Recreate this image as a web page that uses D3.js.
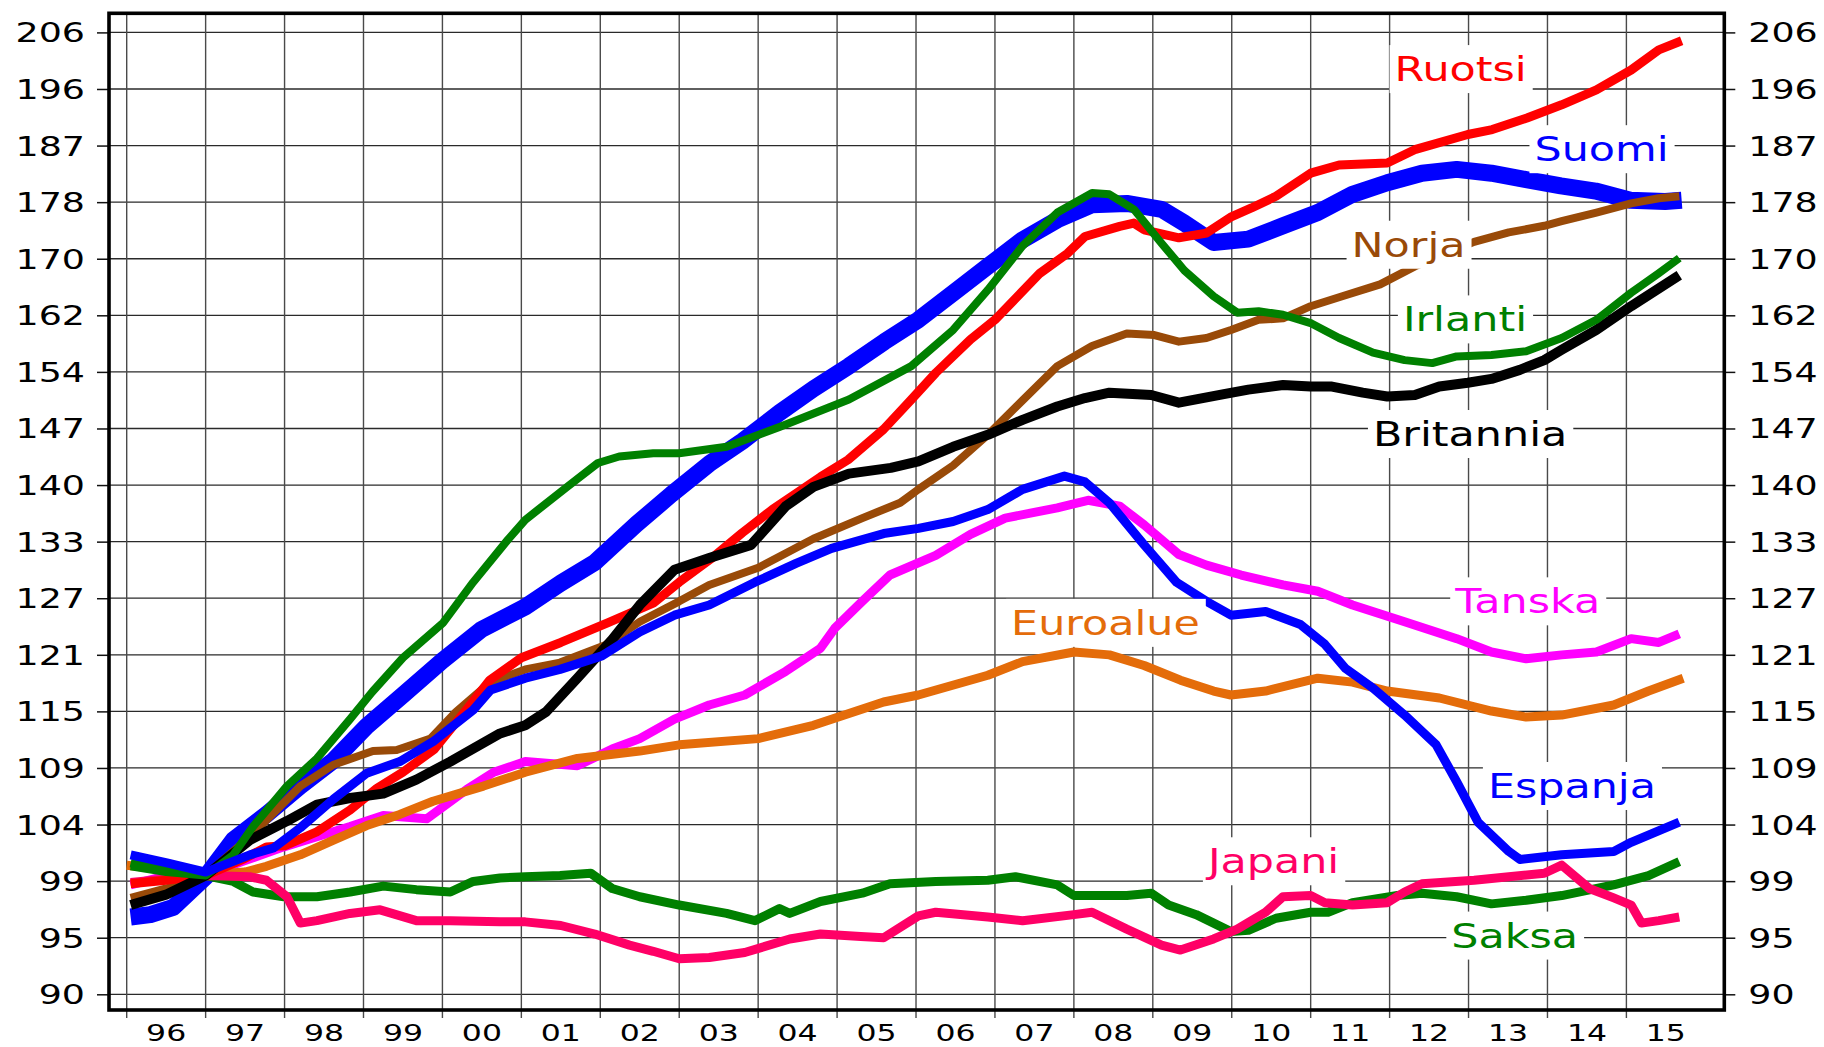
<!DOCTYPE html>
<html>
<head>
<meta charset="utf-8">
<script src="https://cdn.jsdelivr.net/npm/d3@7"></script>
<style>
  body { margin: 0; background: #fff; }
  text { font-family: "DejaVu Sans", sans-serif; }
</style>
</head>
<body>
<div id="chart"></div>
<script>
// house price index, log scale, 1996-2015

const yearLabels = ["96","97","98","99","00","01","02","03","04","05","06","07","08","09","10","11","12","13","14","15"];
const yTickLabels = ["90","95","99","104","109","115","121","127","133","140","147","154","162","170","178","187","196","206"];

const ruotsi = [[1996.05,99.0],[1996.5,99.3],[1997.0,99.7],[1997.5,101.2],[1997.77,102.2],[1998.0,102.3],[1998.4,103.5],[1998.83,105.5],[1999.17,107.5],[1999.5,109.0],[1999.9,111.2],[2000.3,115.0],[2000.6,118.0],[2001.0,120.3],[2001.5,121.9],[2002.1,124.0],[2002.67,126.1],[2003.0,128.4],[2003.4,131.0],[2003.8,134.0],[2004.18,136.7],[2004.79,140.6],[2005.14,142.7],[2005.59,146.5],[2005.94,150.3],[2006.25,153.8],[2006.69,158.3],[2007.0,161.0],[2007.57,167.6],[2007.92,170.5],[2008.14,173.0],[2008.58,174.5],[2008.76,175.0],[2008.89,174.0],[2009.33,172.8],[2009.68,173.5],[2010.0,176.0],[2010.25,177.3],[2010.56,179.1],[2011.0,182.7],[2011.36,184.0],[2011.97,184.3],[2012.33,186.5],[2012.99,188.9],[2013.3,189.7],[2013.74,191.6],[2014.18,193.8],[2014.62,196.3],[2015.06,199.7],[2015.41,203.2],[2015.7,204.8]];

const suomi = [[1996.05,96.2],[1996.3,96.4],[1996.59,97.0],[1997.0,99.6],[1997.35,102.8],[1997.77,105.1],[1998.2,107.7],[1998.62,110.1],[1999.04,113.4],[1999.5,116.5],[2000.0,120.0],[2000.5,123.3],[2001.05,125.7],[2001.5,128.3],[2001.93,130.6],[2002.46,135.0],[2002.9,138.5],[2003.38,142.2],[2003.8,145.0],[2004.27,148.6],[2004.7,151.7],[2005.15,154.7],[2005.6,158.0],[2006.03,161.0],[2006.5,165.0],[2006.91,168.6],[2007.35,172.5],[2007.79,175.5],[2008.23,177.8],[2008.67,178.0],[2009.11,177.1],[2009.4,175.0],[2009.77,172.1],[2010.21,172.6],[2010.65,174.6],[2011.09,176.6],[2011.53,179.4],[2011.97,181.2],[2012.41,182.7],[2012.85,183.3],[2013.29,182.7],[2013.73,181.7],[2014.17,180.7],[2014.61,179.9],[2015.05,178.5],[2015.49,178.3],[2015.7,178.5]];

const norja = [[1996.05,97.8],[1996.5,98.6],[1997.0,99.7],[1997.56,103.1],[1998.2,107.7],[1998.62,109.7],[1999.12,111.0],[1999.42,111.1],[1999.85,112.2],[2000.17,114.8],[2000.61,117.8],[2001.05,119.1],[2001.49,119.8],[2002.06,121.6],[2002.5,124.1],[2003.0,126.3],[2003.38,128.1],[2004.0,130.0],[2004.7,133.3],[2005.32,135.7],[2005.8,137.5],[2006.03,139.1],[2006.47,142.0],[2006.91,145.8],[2007.35,150.2],[2007.79,154.7],[2008.23,157.4],[2008.67,159.1],[2009.02,158.9],[2009.33,158.0],[2009.68,158.5],[2009.99,159.6],[2010.34,161.0],[2010.65,161.2],[2011.0,162.9],[2011.4,164.3],[2011.88,166.0],[2012.32,168.6],[2013.07,172.2],[2013.51,173.6],[2013.96,174.6],[2014.18,175.3],[2014.62,176.6],[2015.06,178.0],[2015.41,178.8],[2015.67,179.1]];

const irlanti = [[1996.05,100.5],[1996.5,100.0],[1997.0,99.7],[1997.35,101.5],[1997.6,104.0],[1998.03,107.7],[1998.41,110.3],[1998.83,114.1],[1999.11,116.8],[1999.5,120.3],[2000.01,124.0],[2000.39,128.4],[2000.83,133.2],[2001.05,135.5],[2001.58,139.4],[2001.97,142.3],[2002.24,143.1],[2002.67,143.5],[2003.0,143.5],[2003.6,144.3],[2004.27,146.8],[2005.15,150.3],[2005.94,154.7],[2006.47,159.6],[2006.91,165.2],[2007.35,171.6],[2007.79,176.6],[2008.23,179.6],[2008.45,179.4],[2008.76,177.1],[2009.11,172.0],[2009.4,168.0],[2009.77,164.3],[2010.07,162.0],[2010.34,162.2],[2010.65,161.7],[2011.01,160.5],[2011.36,158.5],[2011.79,156.5],[2012.19,155.5],[2012.54,155.1],[2012.85,156.0],[2013.29,156.2],[2013.73,156.7],[2014.18,158.5],[2014.62,161.0],[2015.06,164.8],[2015.41,167.6],[2015.67,169.8]];

const britannia = [[1996.05,97.2],[1996.51,98.1],[1997.0,99.7],[1997.56,102.8],[1998.03,104.5],[1998.41,106.0],[1998.83,106.6],[1999.25,107.0],[1999.67,108.3],[2000.1,110.0],[2000.73,112.7],[2001.05,113.5],[2001.31,114.8],[2001.71,118.2],[2002.15,122.2],[2002.5,125.9],[2002.94,129.8],[2003.38,131.1],[2003.91,132.6],[2004.35,137.1],[2004.7,139.4],[2005.15,141.0],[2005.68,141.7],[2006.03,142.5],[2006.47,144.3],[2006.91,145.8],[2007.35,147.7],[2007.79,149.4],[2008.14,150.5],[2008.45,151.2],[2008.98,150.9],[2009.33,149.9],[2009.9,151.0],[2010.21,151.6],[2010.65,152.2],[2011.0,152.0],[2011.27,152.0],[2011.66,151.2],[2011.97,150.7],[2012.32,150.9],[2012.63,152.0],[2012.99,152.5],[2013.29,153.0],[2013.65,154.2],[2013.96,155.5],[2014.18,156.9],[2014.62,159.6],[2015.06,162.9],[2015.67,167.3]];

const espanja = [[1996.05,101.5],[1996.51,100.8],[1997.0,100.0],[1997.56,101.5],[1997.86,102.1],[1998.2,103.9],[1998.62,106.5],[1999.04,108.9],[1999.46,110.0],[1999.88,111.9],[2000.39,115.0],[2000.61,117.0],[2001.05,118.2],[2001.49,119.1],[2002.02,120.5],[2002.5,123.0],[2002.94,124.8],[2003.38,125.9],[2003.96,128.4],[2004.48,130.5],[2004.93,132.2],[2005.59,133.9],[2006.03,134.5],[2006.47,135.3],[2006.91,136.7],[2007.35,139.1],[2007.88,140.7],[2008.14,140.0],[2008.45,137.5],[2008.89,132.6],[2009.3,128.4],[2009.68,126.3],[2009.99,124.8],[2010.43,125.2],[2010.87,123.8],[2011.18,121.7],[2011.44,119.2],[2011.79,117.2],[2012.19,114.5],[2012.59,111.6],[2012.85,108.1],[2013.12,104.4],[2013.51,101.8],[2013.65,101.1],[2014.18,101.5],[2014.84,101.8],[2015.06,102.6],[2015.67,104.4]];

const tanska = [[1996.05,98.9],[1996.51,99.7],[1997.0,99.8],[1997.5,101.0],[1997.99,102.2],[1998.41,103.1],[1998.83,104.0],[1999.25,105.0],[1999.8,104.7],[2000.31,107.4],[2000.65,109.0],[2001.05,110.0],[2001.71,109.6],[2002.15,111.2],[2002.5,112.2],[2002.94,114.1],[2003.38,115.5],[2003.83,116.5],[2004.35,118.9],[2004.79,121.3],[2004.97,123.4],[2005.32,126.3],[2005.67,129.2],[2006.25,131.4],[2006.69,133.8],[2007.13,135.7],[2007.79,136.9],[2008.18,137.8],[2008.58,137.1],[2008.89,134.9],[2009.33,131.5],[2009.68,130.3],[2010.12,129.2],[2010.65,128.1],[2011.09,127.4],[2011.53,125.9],[2012.19,124.1],[2012.85,122.3],[2013.29,120.9],[2013.73,120.2],[2014.18,120.6],[2014.62,120.9],[2015.06,122.3],[2015.41,121.9],[2015.67,122.8]];

const euroalue = [[1996.0,100.6],[1996.51,100.2],[1997.0,99.8],[1997.5,100.0],[1997.77,100.5],[1998.2,101.5],[1998.62,102.8],[1999.04,104.1],[1999.46,105.1],[1999.88,106.3],[2000.52,107.7],[2001.05,109.0],[2001.71,110.3],[2002.5,111.0],[2003.0,111.6],[2004.0,112.2],[2004.7,113.5],[2005.59,115.8],[2006.03,116.5],[2006.91,118.5],[2007.35,119.9],[2008.0,120.9],[2008.45,120.6],[2008.89,119.5],[2009.35,118.0],[2009.77,116.9],[2009.99,116.5],[2010.43,116.9],[2011.09,118.2],[2011.53,117.8],[2011.97,116.9],[2012.63,116.2],[2013.29,114.9],[2013.73,114.3],[2014.18,114.5],[2014.84,115.5],[2015.28,116.9],[2015.72,118.2]];

const japani = [[1996.05,99.1],[1996.51,99.4],[1997.0,99.7],[1997.56,99.6],[1997.77,99.3],[1998.03,97.9],[1998.2,95.7],[1998.41,95.9],[1998.83,96.5],[1999.21,96.8],[1999.67,95.9],[2000.1,95.9],[2000.73,95.8],[2001.05,95.8],[2001.5,95.5],[2001.93,94.8],[2002.37,93.9],[2002.67,93.4],[2003.0,92.8],[2003.38,92.9],[2003.83,93.3],[2004.4,94.4],[2004.79,94.8],[2005.3,94.6],[2005.59,94.5],[2006.03,96.3],[2006.25,96.6],[2006.91,96.2],[2007.35,95.9],[2008.0,96.4],[2008.23,96.6],[2008.67,95.2],[2009.11,93.9],[2009.35,93.5],[2009.77,94.4],[2010.07,95.2],[2010.43,96.6],[2010.65,97.9],[2011.0,98.0],[2011.18,97.4],[2011.53,97.2],[2011.97,97.4],[2012.19,98.3],[2012.41,99.0],[2013.07,99.3],[2013.51,99.6],[2013.96,99.9],[2014.18,100.6],[2014.53,98.6],[2014.84,97.8],[2015.06,97.2],[2015.19,95.7],[2015.41,95.9],[2015.67,96.2]];

const saksa = [[1996.05,100.8],[1996.5,100.1],[1997.0,99.7],[1997.35,99.2],[1997.6,98.3],[1997.99,97.9],[1998.41,97.9],[1998.83,98.3],[1999.25,98.8],[1999.67,98.5],[2000.1,98.3],[2000.39,99.2],[2000.73,99.5],[2001.05,99.6],[2001.49,99.7],[2001.88,99.9],[2002.15,98.6],[2002.5,97.9],[2003.0,97.2],[2003.6,96.5],[2003.96,95.9],[2004.27,96.9],[2004.4,96.5],[2004.79,97.5],[2005.32,98.2],[2005.67,99.0],[2006.25,99.2],[2006.91,99.3],[2007.26,99.6],[2007.79,98.9],[2008.0,98.0],[2008.67,98.0],[2008.98,98.2],[2009.2,97.2],[2009.55,96.4],[2009.99,95.0],[2010.21,95.1],[2010.56,96.1],[2011.0,96.6],[2011.22,96.6],[2011.53,97.4],[2012.1,98.0],[2012.41,98.2],[2012.85,97.9],[2013.29,97.3],[2013.73,97.6],[2014.18,98.0],[2014.84,98.9],[2015.28,99.7],[2015.67,100.9]];

// drawing order = z order
const series = [
  {name: "Suomi",     data: suomi,     color: "#0000ff", width: 17, label: [2014.685, 184.6]},
  {name: "Tanska",    data: tanska,    color: "#ff00ff", width: 9,  label: [2013.75, 125.0]},
  {name: "Euroalue",  data: euroalue,  color: "#e46c0a", width: 9,  label: [2008.40, 122.7]},
  {name: "Saksa",     data: saksa,     color: "#008000", width: 9,  label: [2013.585, 93.7]},
  {name: "Japani",    data: japani,    color: "#ff0066", width: 9,  label: [2010.53, 99.9]},
  {name: "Norja",     data: norja,     color: "#994a08", width: 8,  label: [2012.24, 170.0]},
  {name: "Ruotsi",    data: ruotsi,    color: "#ff0000", width: 9,  label: [2012.90, 197.8]},
  {name: "Britannia", data: britannia, color: "#000000", width: 10, label: [2013.02, 144.4]},
  {name: "Irlanti",   data: irlanti,   color: "#008000", width: 8,  label: [2012.955, 159.4]},
  {name: "Espanja",   data: espanja,   color: "#0000ff", width: 9,  label: [2014.31, 106.6]}
];

const width = 1824, height = 1047;
const frame = {left: 109, right: 1724.3, top: 13.3, bottom: 1010};

const svg = d3.select("#chart").append("svg")
  .attr("width", width)
  .attr("height", height);

let x = d3.scaleLinear().domain([1996, 2015]).range([126.7, 1626.4]);
const yTickValues = d3.range(18).map(k => 90 * Math.pow(1.05, k));
let y = d3.scaleLog().domain([yTickValues[0], yTickValues[17]]).range([994.3, 32.4]);

const years = d3.range(1996, 2016);

// grid
svg.append("g").selectAll("line")
  .data(yTickValues).enter().append("line")
  .attr("x1", frame.left).attr("x2", frame.right)
  .attr("y1", d => y(d)).attr("y2", d => y(d))
  .attr("stroke", "#2a2a2a").attr("stroke-width", 1.3);

svg.append("g").selectAll("line")
  .data(years).enter().append("line")
  .attr("x1", d => x(d)).attr("x2", d => x(d))
  .attr("y1", frame.top).attr("y2", frame.bottom + 8)
  .attr("stroke", "#4a4a4a").attr("stroke-width", 1.4);

// axes
const stretch = (sel, sx) => sel.each(function() {
  const t = d3.select(this);
  const tx = +t.attr("x") || 0;
  t.attr("x", 0).attr("transform", "translate(" + tx + ",0) scale(" + sx + ",1)");
});

const yAxisL = d3.axisLeft(y).tickValues(yTickValues)
  .tickFormat((d, i) => yTickLabels[i]).tickSize(12).tickPadding(12);
const yAxisR = d3.axisRight(y).tickValues(yTickValues)
  .tickFormat((d, i) => yTickLabels[i]).tickSize(11).tickPadding(13);

const gl = svg.append("g").attr("transform", "translate(" + frame.left + ",0)").call(yAxisL);
const gr = svg.append("g").attr("transform", "translate(" + frame.right + ",0)").call(yAxisR);

[gl, gr].forEach(g => {
  g.select(".domain").remove();
  g.selectAll(".tick line").attr("stroke", "#111").attr("stroke-width", 1.5);
  g.selectAll(".tick text")
    .attr("font-size", 26).attr("fill", "#000").attr("dy", "0.365em")
    .call(stretch, 1.4);
});

svg.append("g").selectAll("text")
  .data(yearLabels).enter().append("text")
  .attr("transform", (d, i) => "translate(" + x(years[i] + 0.5) + ",1041) scale(1.37,1)")
  .attr("text-anchor", "middle")
  .attr("font-size", 23)
  .text(d => d);

// lines
const line = d3.line()
  .x(d => x(d[0]))
  .y(d => y(d[1]));

svg.append("g").selectAll("path")
  .data(series).enter().append("path")
  .attr("d", d => line(d.data))
  .attr("fill", "none")
  .attr("stroke", d => d.color)
  .attr("stroke-width", d => d.width)
  .attr("stroke-linejoin", "round")
  .attr("stroke-linecap", "butt");

// labels with white boxes
const labelStretch = 1.26;
const labels = svg.append("g").selectAll("g")
  .data(series).enter().append("g")
  .attr("transform", d => "translate(" + x(d.label[0]) + "," + y(d.label[1]) + ")");

labels.append("rect").attr("fill", "#fff");
labels.append("text")
  .attr("text-anchor", "middle")
  .attr("font-size", 34)
  .attr("fill", d => d.color)
  .attr("transform", "scale(" + labelStretch + ",1)")
  .text(d => d.name);

labels.each(function() {
  const g = d3.select(this);
  const w = g.select("text").node().getComputedTextLength() * labelStretch;
  g.select("rect")
    .attr("x", -w / 2 - 5).attr("width", w + 11)
    .attr("y", -36).attr("height", 48);
});

// frame
svg.append("rect")
  .attr("x", frame.left).attr("y", frame.top)
  .attr("width", frame.right - frame.left)
  .attr("height", frame.bottom - frame.top)
  .attr("fill", "none")
  .attr("stroke", "#000")
  .attr("stroke-width", 3.6);
</script>
</body>
</html>
